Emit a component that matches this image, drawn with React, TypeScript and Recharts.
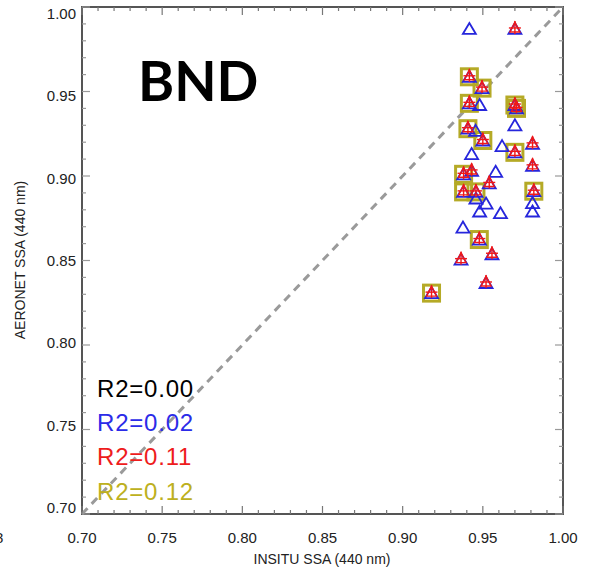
import { ScatterChart, Scatter, XAxis, YAxis, ReferenceLine, ReferenceArea } from "recharts";

// all matched points (blue triangles)
const allX = [0.9416, 0.970, 0.9416, 0.9495, 0.9416, 0.948, 0.970, 0.971, 0.970, 0.9407, 0.9455, 0.950, 0.962, 0.981, 0.970, 0.943, 0.981, 0.938, 0.943, 0.958, 0.954, 0.938, 0.9457, 0.9818, 0.9457, 0.952, 0.948, 0.961, 0.981, 0.981, 0.9376, 0.9478, 0.9364, 0.9557, 0.952, 0.918];
const allY = [0.987, 0.987, 0.9587, 0.952, 0.943, 0.942, 0.942, 0.940, 0.930, 0.928, 0.9267, 0.921, 0.9177, 0.919, 0.914, 0.913, 0.906, 0.901, 0.903, 0.9025, 0.8956, 0.8906, 0.8906, 0.891, 0.8867, 0.8837, 0.879, 0.878, 0.884, 0.879, 0.8695, 0.8624, 0.8505, 0.8537, 0.8367, 0.8307];

// subset (red)
const redX = [0.970, 0.9416, 0.9495, 0.9416, 0.970, 0.971, 0.9407, 0.950, 0.981, 0.970, 0.981, 0.938, 0.943, 0.954, 0.938, 0.9457, 0.9818, 0.9478, 0.9364, 0.9557, 0.952, 0.918];
const redY = [0.987, 0.9587, 0.952, 0.943, 0.942, 0.940, 0.928, 0.921, 0.919, 0.914, 0.906, 0.901, 0.903, 0.8956, 0.8906, 0.8906, 0.891, 0.8624, 0.8505, 0.8537, 0.8367, 0.8307];

// subset (olive squares)
const sqX = [0.9416, 0.9495, 0.9416, 0.970, 0.971, 0.9407, 0.950, 0.970, 0.938, 0.938, 0.9457, 0.9818, 0.9478, 0.918];
const sqY = [0.9587, 0.952, 0.943, 0.942, 0.940, 0.928, 0.921, 0.914, 0.901, 0.8906, 0.8906, 0.891, 0.8624, 0.8307];

const majorTicks = [0.7, 0.75, 0.8, 0.85, 0.9, 0.95, 1.0];
const minorTicks = [0.70, 0.71, 0.72, 0.73, 0.74, 0.75, 0.76, 0.77, 0.78, 0.79, 0.80, 0.81, 0.82, 0.83, 0.84, 0.85, 0.86, 0.87, 0.88, 0.89, 0.90, 0.91, 0.92, 0.93, 0.94, 0.95, 0.96, 0.97, 0.98, 0.99, 1.00];

const r2Labels = ["R2=0.00", "R2=0.02", "R2=0.11", "R2=0.12"];
const r2Colors = ["#000000", "#2b2be8", "#ee1c1c", "#bdb020"];

const allPts = allX.map((x, i) => ({ x, y: allY[i] }));
const redPts = redX.map((x, i) => ({ x, y: redY[i] }));
const sqPts = sqX.map((x, i) => ({ x, y: sqY[i] }));

const PLOT_LEFT = 82;
const PLOT_RIGHT = 563;
const PLOT_TOP = 7;
const PLOT_BOTTOM = 514;
const FONT = "'Liberation Sans', Arial, sans-serif";

const isMajor = (v: number) => majorTicks.some((m) => Math.abs(m - v) < 1e-6);

function XTick(props: any) {
  const { x, payload } = props;
  const major = isMajor(payload.value);
  const len = major ? 8 : 4;
  return (
    <g>
      <line x1={x} x2={x} y1={PLOT_BOTTOM} y2={PLOT_BOTTOM - len} stroke="#777" strokeWidth={1.2} />
      <line x1={x} x2={x} y1={PLOT_TOP} y2={PLOT_TOP + len} stroke="#777" strokeWidth={1.2} />
      {major && (
        <text x={x} y={543} textAnchor="middle" fontSize={15} fontFamily={FONT} fill="#222">
          {payload.value.toFixed(2)}
        </text>
      )}
    </g>
  );
}

function YTick(props: any) {
  const { y, payload } = props;
  const major = isMajor(payload.value);
  const len = major ? 8 : 4;
  // labels sit slightly inside the frame ends, as in the source figure
  const ly = 14 + (y - PLOT_TOP) * (494 / (PLOT_BOTTOM - PLOT_TOP));
  return (
    <g>
      <line x1={PLOT_LEFT} x2={PLOT_LEFT + len} y1={y} y2={y} stroke="#999" strokeWidth={1.2} />
      <line x1={PLOT_RIGHT} x2={PLOT_RIGHT - len} y1={y} y2={y} stroke="#999" strokeWidth={1.2} />
      {major && (
        <text x={76} y={ly + 5} textAnchor="end" fontSize={15} fontFamily={FONT} fill="#222">
          {payload.value.toFixed(2)}
        </text>
      )}
    </g>
  );
}

const BlueTri = (p: any) => {
  const { cx, cy } = p;
  return (
    <path
      d={`M${cx},${cy - 6} L${cx + 6.5},${cy + 5} L${cx - 6.5},${cy + 5} Z`}
      fill="none"
      stroke="#2626dc"
      strokeWidth={1.8}
    />
  );
};

const RedMark = (p: any) => {
  const { cx, cy } = p;
  return (
    <g stroke="#f01818" strokeWidth={1.4} fill="none">
      <path d={`M${cx},${cy - 7} L${cx + 5},${cy + 3} L${cx - 5},${cy + 3} Z`} />
      <line x1={cx} x2={cx} y1={cy - 8} y2={cy + 5} />
      <line x1={cx - 6} x2={cx + 6} y1={cy - 1} y2={cy - 1} />
    </g>
  );
};

const OliveSq = (p: any) => {
  const { cx, cy } = p;
  return <rect x={cx - 8} y={cy - 8} width={16} height={16} fill="none" stroke="#b5aa26" strokeWidth={3} />;
};

export default function App() {
  return (
    <div style={{ position: "absolute", left: 0, top: 0, width: 599, height: 571, background: "#fff" }}>
      <ScatterChart width={599} height={571} margin={{ top: 7, right: 36, bottom: 17, left: 22 }}>
        <XAxis
          type="number"
          dataKey="x"
          domain={[0.7, 1]}
          ticks={minorTicks}
          interval={0}
          tick={<XTick />}
          tickLine={false}
          axisLine={false}
          height={40}
          allowDataOverflow
        />
        <YAxis
          type="number"
          dataKey="y"
          domain={[0.7, 1]}
          ticks={minorTicks}
          interval={0}
          tick={<YTick />}
          tickLine={false}
          axisLine={false}
          width={60}
          allowDataOverflow
        />
        <ReferenceLine
          segment={[{ x: 0.7, y: 0.7 }, { x: 1, y: 1 }]}
          stroke="#9a9a9a"
          strokeWidth={3}
          strokeDasharray="8 6"
        />
        <ReferenceArea x1={0.7} x2={1} y1={0.7} y2={1} fill="none" stroke="#555" strokeWidth={2} />
        <Scatter data={sqPts} shape={OliveSq} isAnimationActive={false} />
        <Scatter data={allPts} shape={BlueTri} isAnimationActive={false} />
        <Scatter data={redPts} shape={RedMark} isAnimationActive={false} />
      </ScatterChart>
      <svg
        width={599}
        height={571}
        style={{ position: "absolute", left: 0, top: 0, pointerEvents: "none" }}
      >
        <text x={138} y={101} fontSize={55} fontWeight="bold" fontFamily="Lato, 'Open Sans', sans-serif" fill="#000">
          BND
        </text>
        {r2Labels.map((t, i) => (
          <text
            key={t}
            x={97}
            y={397 + i * 34.2}
            fontSize={24}
            letterSpacing={0.8}
            fontFamily={FONT}
            fill={r2Colors[i]}
          >
            {t}
          </text>
        ))}
        <text x={322} y={564} textAnchor="middle" fontSize={14} fontFamily={FONT} fill="#222">
          INSITU SSA (440 nm)
        </text>
        <text
          x={25}
          y={260}
          textAnchor="middle"
          fontSize={14}
          fontFamily={FONT}
          fill="#222"
          transform="rotate(-90 25 260)"
        >
          AERONET SSA (440 nm)
        </text>
        <text x={-5} y={543} fontSize={15} fontFamily={FONT} fill="#222">
          8
        </text>
      </svg>
    </div>
  );
}
